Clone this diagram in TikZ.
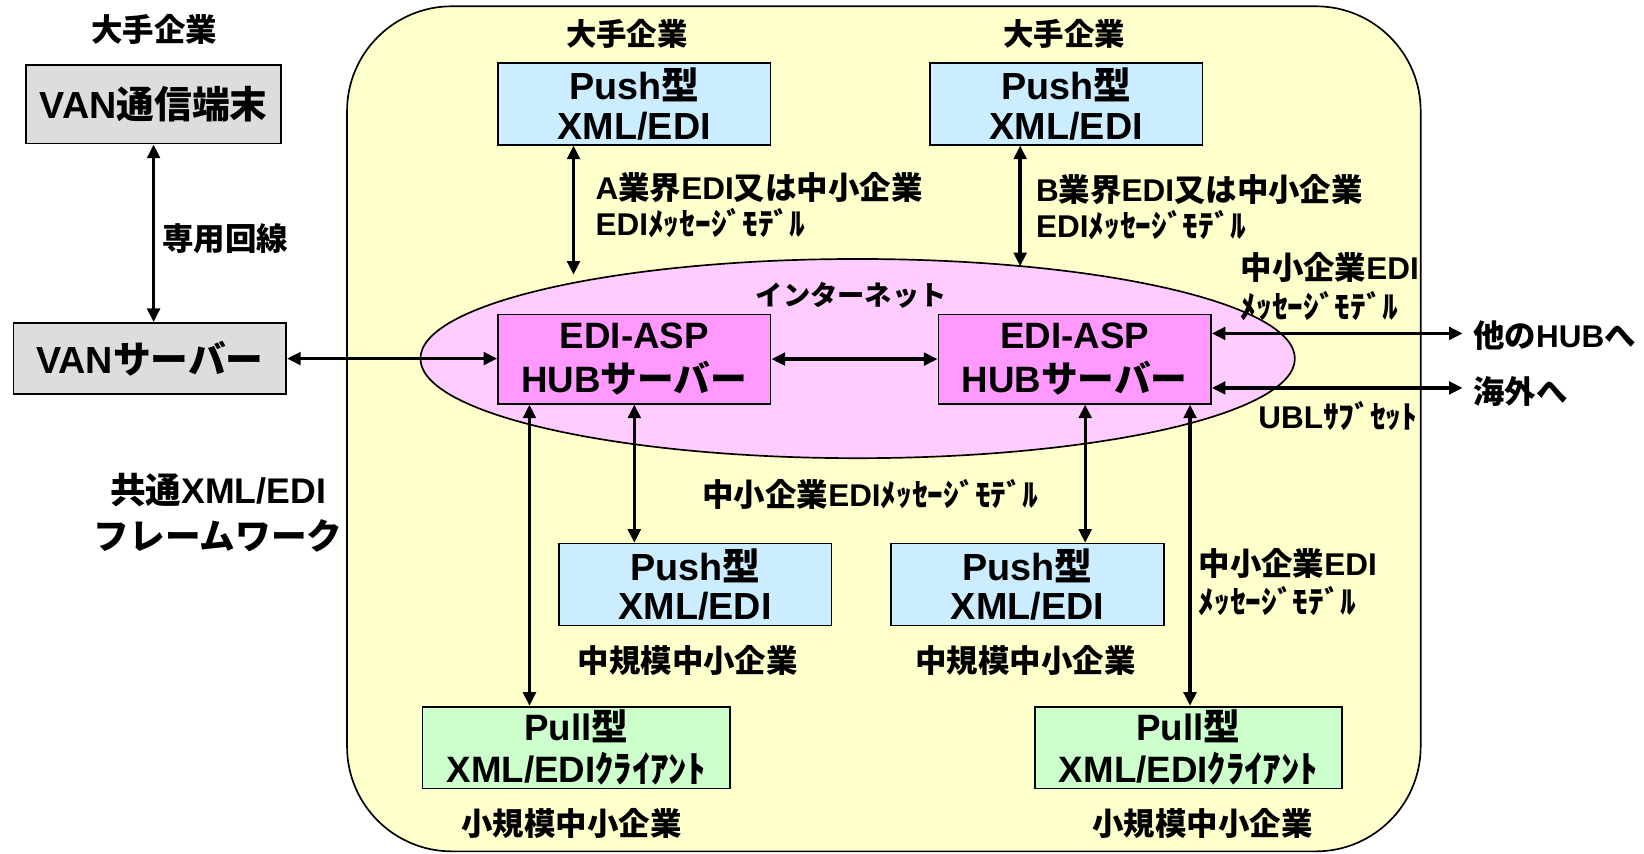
\documentclass[tikz,border=0pt]{standalone}
\usepackage{fontspec}
\setmainfont{Noto Sans CJK JP}
\newfontfamily\latf{Liberation Sans}
\newcommand\ltn[1]{{\latf\bfseries #1}}
\usetikzlibrary{arrows.meta,shapes.geometric}
\definecolor{bgyellow}{HTML}{FFFFCC}
\definecolor{netpink}{HTML}{FFCCFF}
\definecolor{hubpink}{HTML}{FF99FF}
\definecolor{pushblue}{HTML}{CCECFF}
\definecolor{pullgreen}{HTML}{CCFFCC}
\definecolor{vangray}{HTML}{DDDDDD}

\begin{document}
\begin{tikzpicture}[x=1pt,y=-1pt,
  fs/.style={font=\bfseries\fontsize{#1}{#1}\selectfont},
  box/.style={draw=black, line width=1.6pt, inner sep=0pt, align=center},
  graybox/.style={box, fill=vangray, fs=36},
  pushbox/.style={box, fill=pushblue, minimum width=260, minimum height=78,
    font=\bfseries\fontsize{36}{38}\selectfont},
  hubbox/.style={box, fill=hubpink, minimum width=260, minimum height=85,
    font=\bfseries\fontsize{35}{42}\selectfont},
  pullbox/.style={box, fill=pullgreen, minimum width=293, minimum height=78,
    font=\bfseries\fontsize{35}{40}\selectfont},
  lbl/.style={inner sep=0pt, align=center, fs=#1},
  lbll/.style={inner sep=0pt, align=left, anchor=west, fs=#1},
  dbl/.style={line width=3.2pt,
    {Triangle[length=13pt,width=12pt]}-{Triangle[length=13pt,width=12pt]}}]

\useasboundingbox (0,0) rectangle (1568,814);

% framework area and the internet cloud
\draw[fill=bgyellow, line width=1.6pt, rounded corners=100pt] (331,6) rectangle (1355,812);
\node[ellipse, draw=black, line width=1.6pt, fill=netpink, inner sep=0pt,
  minimum width=834, minimum height=190] (net) at (818,342) {};

% VAN side
\node[lbl=30] (bigL) at (147,28) {大手企業};
\node[graybox, minimum width=243, minimum height=75] (van) at (146.5,99.5) {\ltn{VAN}通信端末};
\node[graybox, minimum width=260, minimum height=68] (vans) at (143,342) {\ltn{VAN}サーバー};
\node[lbl=30] (senyo) at (215,228) {専用回線};
\node[lbl=34, font=\bfseries\fontsize{34}{44}\selectfont] (common) at (208,489)
  {共通\ltn{XML/EDI}\\フレームワーク};

% large companies
\node[lbl=29] (bigA) at (598,32) {大手企業};
\node[lbl=29] (bigB) at (1015,32) {大手企業};
\node[pushbox] (push1) at (605,99) {\ltn{Push}型\\\ltn{XML/EDI}};
\node[pushbox] (push2) at (1017,99) {\ltn{Push}型\\\ltn{XML/EDI}};
\node[lbll=30, font=\bfseries\fontsize{30}{35}\selectfont] (msgA) at (568,195.5)
  {\ltn{A}業界\ltn{EDI}又は中小企業\\\ltn{EDI}ﾒｯｾｰｼﾞﾓﾃﾞﾙ};
\node[lbll=30, font=\bfseries\fontsize{30}{35}\selectfont] (msgB) at (988,197.5)
  {\ltn{B}業界\ltn{EDI}又は中小企業\\\ltn{EDI}ﾒｯｾｰｼﾞﾓﾃﾞﾙ};

% hub servers
\node[lbl=26] (inet) at (812,282) {インターネット};
\node[hubbox] (hub1) at (605,342.5) {\ltn{EDI-ASP}\\\ltn{HUB}サーバー};
\node[hubbox] (hub2) at (1025,342.5) {\ltn{EDI-ASP}\\\ltn{HUB}サーバー};
\node[lbll=30, font=\bfseries\fontsize{30}{37}\selectfont] (msgR) at (1183,273.5)
  {中小企業\ltn{EDI}\\ﾒｯｾｰｼﾞﾓﾃﾞﾙ};
\node[lbll=30] (other) at (1405,320) {他の\ltn{HUB}へ};
\node[lbll=30] (abroad) at (1405,373) {海外へ};
\node[lbll=30] (ubl) at (1200,397) {\ltn{UBL}ｻﾌﾞｾｯﾄ};

% medium and small companies
\node[lbl=30] (msgM) at (830,472) {中小企業\ltn{EDI}ﾒｯｾｰｼﾞﾓﾃﾞﾙ};
\node[pushbox] (push3) at (663,557.5) {\ltn{Push}型\\\ltn{XML/EDI}};
\node[pushbox] (push4) at (980,557.5) {\ltn{Push}型\\\ltn{XML/EDI}};
\node[lbl=30] (midA) at (656,630) {中規模中小企業};
\node[lbl=30] (midB) at (978,630) {中規模中小企業};
\node[lbll=30, font=\bfseries\fontsize{30}{36}\selectfont] (msgS) at (1143,555)
  {中小企業\ltn{EDI}\\ﾒｯｾｰｼﾞﾓﾃﾞﾙ};
\node[pullbox] (pull1) at (549.5,713) {\ltn{Pull}型\\\ltn{XML/EDI}ｸﾗｲｱﾝﾄ};
\node[pullbox] (pull2) at (1133.5,713) {\ltn{Pull}型\\\ltn{XML/EDI}ｸﾗｲｱﾝﾄ};
\node[lbl=30] (smallA) at (545,785) {小規模中小企業};
\node[lbl=30] (smallB) at (1147,785) {小規模中小企業};

% connector end points on the cloud and outside
\coordinate (a1) at (547,262);
\coordinate (a2) at (973,254);
\coordinate (o1) at (1395,318);
\coordinate (o2) at (1395,370);

% connectors
\draw[dbl] (van.south) -- (van.south |- vans.north);
\draw[dbl] (vans.east) -- (vans.east -| hub1.west);
\draw[dbl] (push1.south -| a1) -- (a1);
\draw[dbl] (push2.south -| a2) -- (a2);
\draw[dbl] (hub1.east) -- (hub2.west);
\draw[dbl] (o1 -| hub2.east) -- (o1);
\draw[dbl] (o2 -| hub2.east) -- (o2);
\draw[dbl] (hub1.south -| 505,0) -- (pull1.north -| 505,0);
\draw[dbl] (hub1.south) -- (hub1.south |- push3.north);
\draw[dbl] (hub2.south -| 1035,0) -- (push4.north -| 1035,0);
\draw[dbl] (hub2.south -| 1135,0) -- (pull2.north -| 1135,0);
\end{tikzpicture}
\end{document}
